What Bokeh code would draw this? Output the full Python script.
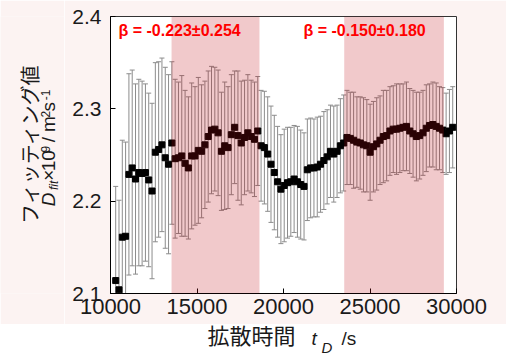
from math import pi
from bokeh.plotting import figure
from bokeh.layouts import row, column
from bokeh.models import ColumnDataSource, Range1d, FixedTicker, BoxAnnotation, Label
from bokeh.embed import file_html
from bokeh.resources import INLINE

# ---- data ----
t_s = [10300, 10491, 10682, 10873, 11064, 11255, 11446, 11637, 11828, 12019,
       12210, 12401, 12592, 12783, 12974, 13165, 13356, 13547, 13738, 13929,
       14120, 14311, 14502, 14693, 14884, 15075, 15266, 15457, 15648, 15839,
       16030, 16221, 16412, 16603, 16794, 16985, 17176, 17367, 17558, 17749,
       17940, 18131, 18322, 18513, 18704, 18895, 19086, 19277, 19468, 19659,
       19850, 20041, 20232, 20423, 20614, 20805, 20996, 21187, 21378, 21569,
       21760, 21951, 22142, 22333, 22524, 22715, 22906, 23097, 23288, 23479,
       23670, 23861, 24052, 24243, 24434, 24625, 24816, 25007, 25198, 25389,
       25580, 25771, 25962, 26153, 26344, 26535, 26726, 26917, 27108, 27299,
       27490, 27681, 27872, 28063, 28254, 28445, 28636, 28827, 29018, 29209,
       29400, 29591, 29782]

d_fit = [2.114, 2.104, 2.161, 2.162, 2.229, 2.236, 2.224, 2.231, 2.230, 2.231,
         2.223, 2.211, 2.253, 2.256, 2.261, 2.247, 2.240, 2.263, 2.246, 2.247,
         2.249, 2.241, 2.236, 2.249, 2.249, 2.255, 2.254, 2.261, 2.270, 2.277,
         2.278, 2.274, 2.254, 2.260, 2.258, 2.272, 2.280, 2.271, 2.263, 2.269,
         2.274, 2.270, 2.267, 2.276, 2.260, 2.258, 2.251, 2.240, 2.231, 2.221,
         2.213, 2.217, 2.220, 2.221, 2.224, 2.221, 2.218, 2.216, 2.234, 2.236,
         2.236, 2.237, 2.240, 2.244, 2.248, 2.254, 2.251, 2.254, 2.260, 2.263,
         2.269, 2.268, 2.266, 2.264, 2.263, 2.261, 2.260, 2.253, 2.259, 2.262,
         2.266, 2.270, 2.271, 2.276, 2.278, 2.278, 2.279, 2.280, 2.281, 2.276,
         2.273, 2.270, 2.271, 2.274, 2.279, 2.282, 2.283, 2.281, 2.279, 2.277,
         2.273, 2.276, 2.280]

d_err = [0.102, 0.097, 0.105, 0.102, 0.109, 0.106, 0.103, 0.101, 0.100, 0.096,
         0.094, 0.095, 0.097, 0.095, 0.094, 0.098, 0.097, 0.088, 0.086, 0.082,
         0.087, 0.079, 0.077, 0.079, 0.075, 0.079, 0.072, 0.069, 0.071, 0.069,
         0.067, 0.068, 0.064, 0.069, 0.066, 0.065, 0.061, 0.070, 0.067, 0.062,
         0.063, 0.061, 0.062, 0.059, 0.060, 0.061, 0.062, 0.063, 0.062, 0.060,
         0.059, 0.061, 0.060, 0.059, 0.058, 0.060, 0.059, 0.058, 0.055, 0.054,
         0.053, 0.054, 0.052, 0.053, 0.051, 0.050, 0.052, 0.050, 0.051, 0.052,
         0.051, 0.050, 0.052, 0.049, 0.050, 0.051, 0.050, 0.052, 0.049, 0.050,
         0.048, 0.050, 0.049, 0.048, 0.047, 0.049, 0.048, 0.047, 0.048, 0.046,
         0.047, 0.048, 0.047, 0.046, 0.047, 0.045, 0.046, 0.047, 0.045, 0.046,
         0.044, 0.045, 0.044]

x_ticks = [10000, 15000, 20000, 25000, 30000]
y_ticks = [2.1, 2.2, 2.3, 2.4]
shade_left = [13530, 23510]
shade_right = [18610, 29270]
beta_texts = ["β = -0.223±0.254", "β = -0.150±0.180"]

BG = "#fcf3f2"
TXT = "#1a1a1a"

upper = [v + e for v, e in zip(d_fit, d_err)]
lower = [v - e for v, e in zip(d_fit, d_err)]
src = ColumnDataSource(dict(t=t_s, d=d_fit, up=upper, lo=lower))

# ---------------- main plot (canvas x 64-506, y 0-324) ----------------
p = figure(width=442, height=324, output_backend="svg", toolbar_location=None,
           x_range=Range1d(10000, 30000), y_range=Range1d(2.1, 2.4),
           min_border_left=46, min_border_right=50, min_border_top=16,
           min_border_bottom=31)
p.background_fill_color = "white"
p.border_fill_color = BG
p.outline_line_color = "#333333"
p.grid.visible = False

for ax, ticks, fs in ((p.xaxis, x_ticks, "22px"), (p.yaxis, y_ticks, "21px")):
    ax.ticker = FixedTicker(ticks=ticks)
    ax.major_tick_in = 5
    ax.major_tick_out = 0
    ax.minor_tick_in = 0
    ax.minor_tick_out = 0
    ax.axis_line_color = "black"
    ax.major_tick_line_color = "black"
    ax.major_label_text_font = "Liberation Sans"
    ax.major_label_text_font_size = fs
    ax.major_label_text_color = TXT
p.xaxis.major_label_standoff = 5
p.yaxis.major_label_standoff = 9
p.yaxis.major_label_overrides = {2.1: "2.1", 2.2: "2.2", 2.3: "2.3", 2.4: "2.4"}

# error bars
p.segment(x0="t", y0="lo", x1="t", y1="up", source=src,
          line_color="#8c8c8c", line_width=1)
p.scatter(x="t", y="up", source=src, marker="dash", size=5,
          line_color="#8c8c8c", line_width=1)
p.scatter(x="t", y="lo", source=src, marker="dash", size=5,
          line_color="#8c8c8c", line_width=1)
# points
p.scatter(x="t", y="d", source=src, marker="square", size=6,
          fill_color="black", line_color="black")

# shaded regions
for l, r in zip(shade_left, shade_right):
    p.add_layout(BoxAnnotation(left=l, right=r, fill_color="#bd0a14",
                               fill_alpha=0.22, line_color=None))

# beta labels
for xs, txt in zip([8, 193], beta_texts):
    p.add_layout(Label(x=xs, y=263, x_units="screen", y_units="screen", text=txt,
                       text_font="Liberation Sans", text_font_style="bold",
                       text_font_size="16px", text_color="#ff0000",
                       text_baseline="middle"))


def blank(w, h, transparent=False):
    f = figure(width=w, height=h, output_backend="svg", toolbar_location=None,
               x_range=Range1d(0, w), y_range=Range1d(0, h),
               x_axis_location=None, y_axis_location=None,
               min_border_left=0, min_border_right=0, min_border_top=0,
               min_border_bottom=0)
    f.grid.visible = False
    f.outline_line_color = None
    f.background_fill_color = BG
    f.border_fill_color = BG
    if transparent:
        f.background_fill_alpha = 0
        f.border_fill_alpha = 0
    return f


def lab(f, x, y, text, size, font="Liberation Sans", style="normal", angle=0.0,
        align="left"):
    f.add_layout(Label(x=x, y=y, text=text, text_font=font,
                       text_font_style=style, text_font_size=size,
                       text_color=TXT, angle=angle, text_align=align,
                       text_baseline="middle"))


# ---------------- y title panel (canvas x 0-64, y 0-324) ----------------
yf = blank(64, 324)
lab(yf, 28.5, 175, "フィッティング値", "20px", font="Noto Sans CJK JP",
    angle=pi / 2, align="center")
lab(yf, 48.4, 102, "D", "19px", style="italic", angle=pi / 2)
lab(yf, 53.8, 121, "fit", "12px", style="italic", angle=pi / 2)
lab(yf, 48.4, 132, "×", "19px", angle=pi / 2)
lab(yf, 48.4, 143, "10", "19px", angle=pi / 2)
lab(yf, 45, 165, "9", "12px", angle=pi / 2)
lab(yf, 48.4, 177, "/", "19px", angle=pi / 2)
lab(yf, 48.4, 189, "m", "19px", angle=pi / 2)
lab(yf, 45, 206, "2", "12px", angle=pi / 2)
lab(yf, 48.4, 213, "s", "19px", angle=pi / 2)
lab(yf, 45, 226, "-1", "12px", angle=pi / 2)

# ---------------- x title panel (canvas y 316-356, overlaps 8 px) ----------------
xf = blank(506, 40, transparent=True)
xf.margin = (-8, 0, 0, 0)
lab(xf, 207, 22.5, "拡散時間", "22px", font="Noto Sans CJK JP")
lab(xf, 311, 18, "t", "19px", style="italic")
lab(xf, 321, 9, "D", "15px", style="italic")
lab(xf, 341, 18, "/s", "19px")

layout = column(row(yf, p, spacing=0), xf, spacing=0)
open("out.html", "w").write(file_html(layout, INLINE))
